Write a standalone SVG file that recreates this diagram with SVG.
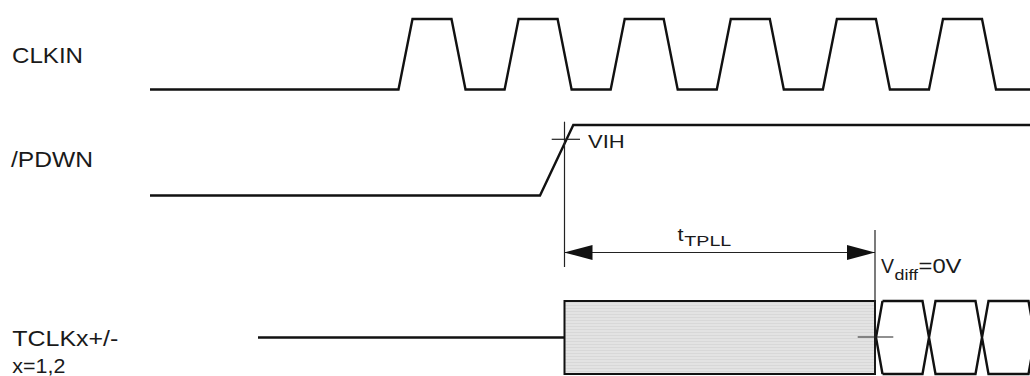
<svg xmlns="http://www.w3.org/2000/svg" width="1030" height="376" viewBox="0 0 1030 376">
<style>
  .lbl { font-family: "Liberation Sans", Arial, sans-serif; fill: #1a1a1a; }
  .wave { fill: none; stroke: #111; stroke-width: 2.4; stroke-linejoin: miter; }
  .thin { fill: none; stroke: #222; stroke-width: 1.2; }
</style>
<defs>
  <pattern id="stripes" width="4" height="3" patternUnits="userSpaceOnUse">
    <rect width="4" height="3" fill="#e3e3e3"/>
    <rect y="2" width="4" height="1" fill="#d8d8d8"/>
  </pattern>
  <marker id="arrow" viewBox="0 0 28 15" refX="28" refY="7.5" markerWidth="28" markerHeight="15" markerUnits="userSpaceOnUse" orient="auto-start-reverse">
    <path d="M0,0 L28,7.5 L0,15 Z" fill="#111"/>
  </marker>
</defs>
<rect width="1030" height="376" fill="#fff"/>

<g id="clkin">
  <text class="lbl" x="12" y="62.7" font-size="22.5" textLength="71" lengthAdjust="spacingAndGlyphs">CLKIN</text>
  <path class="wave" d="M150,89.5 H398.5 L412.5,19 H451.5 L465.5,89.5 H504.6 L518.6,19 H557.6 L571.6,89.5 H610.7 L624.7,19 H663.7 L677.7,89.5 H716.8 L730.8,19 H769.8 L783.8,89.5 H822.9 L836.9,19 H875.9 L889.9,89.5 H929 L943,19 H982 L996,89.5 H1032"/>
</g>

<g id="pdwn">
  <text class="lbl" x="11" y="166.7" font-size="22.5" textLength="82" lengthAdjust="spacingAndGlyphs">/PDWN</text>
  <path class="wave" d="M150,195.5 H540 L573.3,125 H1032"/>
  <line class="thin" x1="551.7" y1="139.3" x2="580" y2="139.3"/>
  <text class="lbl" x="588" y="148" font-size="19" textLength="36.7" lengthAdjust="spacingAndGlyphs">VIH</text>
</g>

<g id="tclk">
  <text class="lbl" x="12.3" y="346" font-size="22" textLength="106" lengthAdjust="spacingAndGlyphs">TCLKx+/-</text>
  <text class="lbl" x="12.3" y="373" font-size="19.5" textLength="53" lengthAdjust="spacingAndGlyphs">x=1,2</text>
  <line class="wave" x1="258" y1="337.5" x2="564.5" y2="337.5"/>
  <rect x="564.5" y="301" width="310.5" height="73" fill="url(#stripes)" stroke="#111" stroke-width="2"/>
  <path class="wave" d="M882.5,301 L876,337.5 L882.5,374 M882.5,301 H922.5 L935.5,374 H975.5 L988.5,301 H1028.5 L1041.5,374 M882.5,374 H922.5 L935.5,301 H975.5 L988.5,374 H1028.5 L1041.5,301"/>
  <line class="thin" x1="857.7" y1="337" x2="893.3" y2="337"/>
  <text class="lbl" x="881" y="273.3" font-size="20" textLength="13" lengthAdjust="spacingAndGlyphs">V</text>
  <text class="lbl" x="894.5" y="280" font-size="15" textLength="23.5" lengthAdjust="spacingAndGlyphs">diff</text>
  <text class="lbl" x="918.5" y="273.3" font-size="20" textLength="43" lengthAdjust="spacingAndGlyphs">=0V</text>
</g>

<g id="connectors">
  <line class="thin" x1="564.5" y1="121.7" x2="564.5" y2="267"/>
  <line class="thin" x1="875" y1="230" x2="875" y2="374"/>
  <line class="thin" x1="564.5" y1="252.5" x2="875" y2="252.5" marker-start="url(#arrow)" marker-end="url(#arrow)"/>
  <text class="lbl" x="677.5" y="240.5" font-size="18.5" textLength="6" lengthAdjust="spacingAndGlyphs">t</text>
  <text class="lbl" x="684.3" y="245.7" font-size="14.5" textLength="47" lengthAdjust="spacingAndGlyphs">TPLL</text>
</g>
</svg>
